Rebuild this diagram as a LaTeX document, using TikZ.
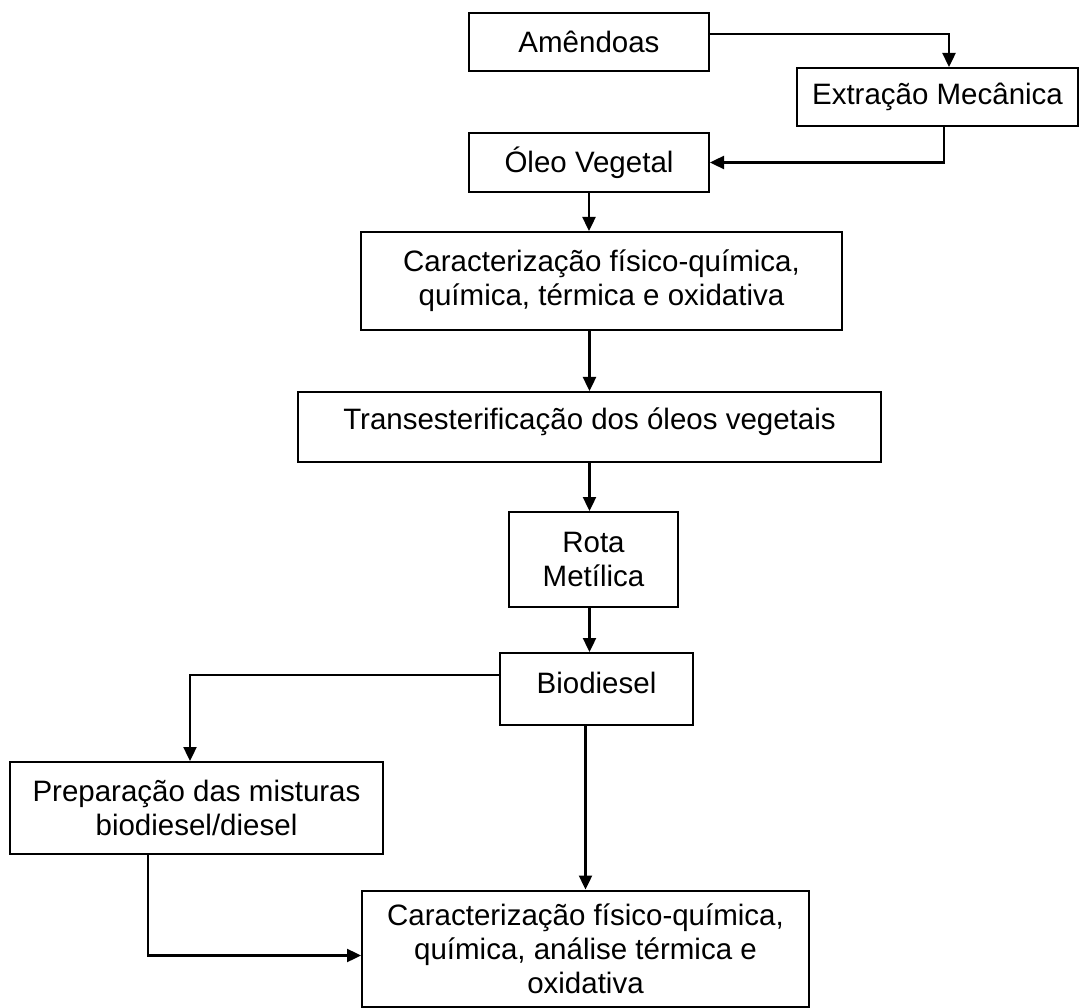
\documentclass[tikz,border=0pt]{standalone}
\usepackage{fontspec}
\setmainfont{Liberation Sans}
\usetikzlibrary{arrows.meta}
\tikzset{
  box/.style={draw=black, line width=2pt, inner sep=0pt, align=center,
    font=\fontsize{29.5}{34}\selectfont},
  conn/.style={line width=2.4pt, -{Triangle[width=13pt,length=14pt]}}
}
\begin{document}
\begin{tikzpicture}[x=1pt,y=-1pt]
\useasboundingbox (0,0) rectangle (1080,1008);
\node[box, minimum width=240pt, minimum height=58pt] (am) at (589,42) {Amêndoas};
\node[box, minimum width=281pt, minimum height=58pt] (ex) at (937.5,97) {Extração Mecânica};
\node[box, minimum width=240pt, minimum height=59pt] (ol) at (589,162.5) {Óleo Vegetal};
\node[box, minimum width=481pt, minimum height=98pt] (c1) at (601.5,281) {Caracterização físico-química,\\química, térmica e oxidativa};
\node[box, minimum width=583pt, minimum height=70pt, text height=20pt, text depth=15pt] (tr) at (589.5,427) {Transesterificação dos óleos vegetais};
\node[box, minimum width=169pt, minimum height=95pt] (ro) at (593.5,559.5) {Rota\\Metílica};
\node[box, minimum width=193pt, minimum height=72pt, text height=21pt, text depth=13pt] (bi) at (596.5,689) {Biodiesel};
\node[box, minimum width=373pt, minimum height=92pt] (pr) at (196.5,808) {Preparação das misturas\\biodiesel/diesel};
\node[box, minimum width=447pt, minimum height=116pt] (c2) at (585.5,948.5) {Caracterização físico-química,\\química, análise térmica e\\oxidativa};

\draw[conn] ([yshift=8pt]am.east) -| ([xshift=11.5pt]ex.north);
\draw[conn] ([xshift=6.5pt]ex.south) |- (ol.east);
\draw[conn] (ol.south) -- (ol.south |- c1.north);
\draw[conn] (tr.north |- c1.south) -- (tr.north);
\draw[conn] (tr.south) -- (tr.south |- ro.north);
\draw[conn] (tr.south |- ro.south) -- (tr.south |- bi.north);
\draw[conn] ([yshift=14pt]bi.west) -| ([xshift=-6.5pt]pr.north);
\draw[conn] (c2.north |- bi.south) -- (c2.north);
\draw[conn] ([xshift=-48.5pt]pr.south) |- ([yshift=-7pt]c2.west);
\end{tikzpicture}
\end{document}
